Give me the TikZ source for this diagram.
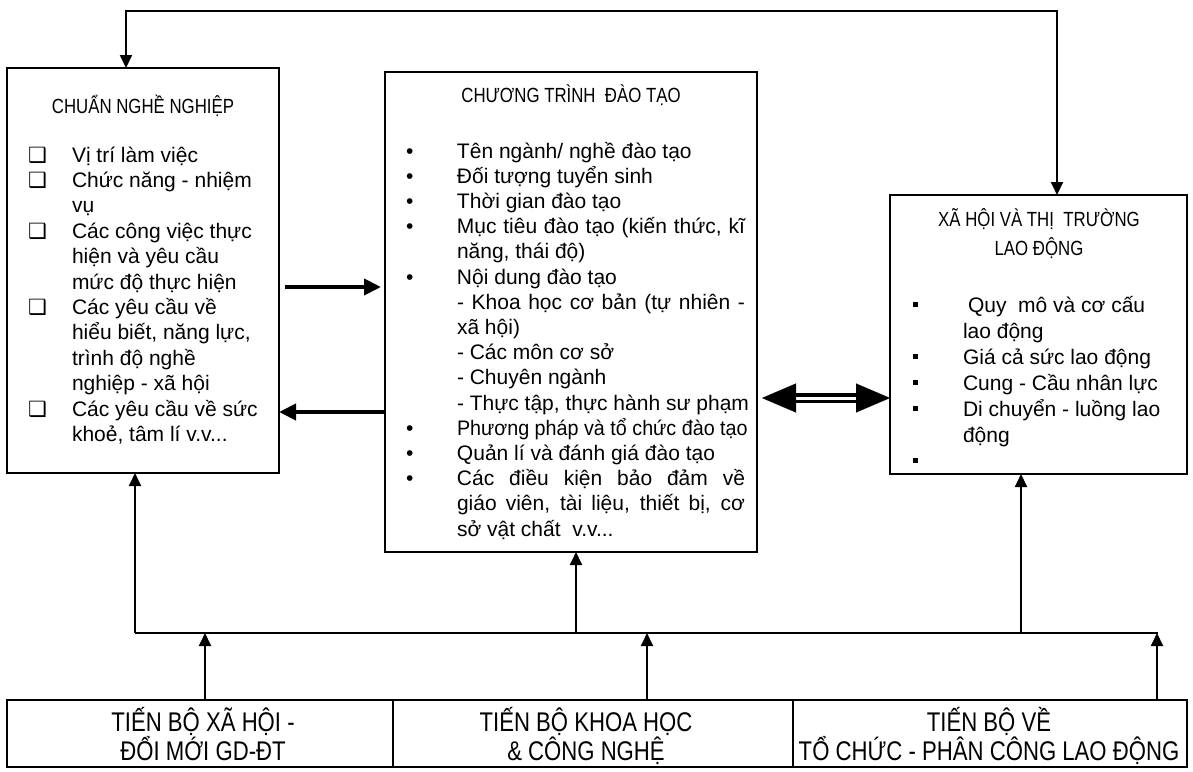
\documentclass[tikz,border=0pt]{standalone}
\usepackage{fontspec}
\usepackage{graphicx}
\setmainfont{Liberation Sans}
\newfontfamily\narrowfont[FakeStretch=0.82]{Liberation Sans}
\newfontfamily\symfont{DejaVu Sans}
\usetikzlibrary{arrows.meta,calc}

\newcommand{\bodyfnt}{\fontsize{21}{25.4}\selectfont}
\newcommand{\sqb}{\makebox[44pt][l]{\symfont\fontsize{21}{21}\selectfont ❑}}
\newcommand{\dotb}{\makebox[51pt][l]{•}}
\newcommand{\smb}{\makebox[50pt][l]{\raisebox{5pt}{\rule{4.5pt}{5pt}}}}
\newcommand{\jline}[1]{\makebox[288pt][s]{#1}}

\tikzset{
  box/.style={draw, line width=1.7pt, inner sep=0pt, outer sep=0pt, anchor=north west},
  txt/.style={anchor=base west, inner sep=0pt, outer sep=0pt},
  head/.style={anchor=base, inner sep=0pt, font=\narrowfont\fontsize{20.5}{24}\selectfont},
  bottxt/.style={anchor=base, inner sep=0pt, font=\narrowfont\fontsize{27}{29}\selectfont},
  ln/.style={line width=1.9pt},
  arr/.style={line width=1.9pt, -{Triangle[length=13pt,width=12pt]}},
  tarr/.style={line width=4pt, -{Triangle[length=17pt,width=16pt]}},
}

\begin{document}
\begin{tikzpicture}[x=1pt,y=-1pt]
\useasboundingbox[fill=white] (0,0) rectangle (1193,771);

% boxes
\node[box, minimum width=272pt, minimum height=405pt] (lf) at (7,68) {};
\node[box, minimum width=372pt, minimum height=480pt] (md) at (385,72) {};
\node[box, minimum width=297pt, minimum height=279pt] (rt) at (890,195) {};
\node[box, minimum width=386pt, minimum height=67pt] (b1) at (7,700) {};
\node[box, minimum width=400pt, minimum height=67pt] (b2) at (393,700) {};
\node[box, minimum width=394pt, minimum height=67pt] (b3) at (793,700) {};

% headers
\node[head] (lfh) at (143,113) {CHUẨN NGHỀ NGHIỆP};
\node[head] (mdh) at (571,102) {CHƯƠNG TRÌNH~ ĐÀO TẠO};
\node[head] (rth) at (1039,226) {\parbox[t]{280pt}{\centering\baselineskip=29pt XÃ HỘI VÀ THỊ~ TRƯỜNG\\LAO ĐỘNG}};

% left content
\node[txt] (lft) at (28,162) {\parbox[t]{260pt}{\bodyfnt\raggedright
\sqb Vị trí làm việc\\
\sqb Chức năng - nhiệm\\
\hspace*{44pt}vụ\\
\sqb Các công việc thực\\
\hspace*{44pt}hiện và yêu cầu\\
\hspace*{44pt}mức độ thực hiện\\
\sqb Các yêu cầu về\\
\hspace*{44pt}hiểu biết, năng lực,\\
\hspace*{44pt}trình độ nghề\\
\hspace*{44pt}nghiệp - xã hội\\
\sqb Các yêu cầu về sức\\
\hspace*{44pt}khoẻ, tâm lí v.v...}};

% middle content
\node[txt] (mdt) at (406,158) {\parbox[t]{420pt}{\fontsize{21}{25.2}\selectfont\raggedright
\dotb Tên ngành/ nghề đào tạo\\
\dotb Đối tượng tuyển sinh\\
\dotb Thời gian đào tạo\\
\dotb\jline{Mục tiêu đào tạo (kiến thức, kĩ}\\
\hspace*{51pt}năng, thái độ)\\
\dotb Nội dung đào tạo\\
\hspace*{51pt}\jline{- Khoa học cơ bản (tự nhiên -}\\
\hspace*{51pt}xã hội)\\
\hspace*{51pt}- Các môn cơ sở\\
\hspace*{51pt}- Chuyên ngành\\
\hspace*{51pt}- Thực tập, thực hành sư phạm\\
\dotb\scalebox{0.94}[1]{Phương pháp và tổ chức đào tạo}\\
\dotb Quản lí và đánh giá đào tạo\\
\dotb\jline{Các điều kiện bảo đảm về}\\
\hspace*{51pt}\jline{giáo viên, tài liệu, thiết bị, cơ}\\
\hspace*{51pt}sở vật chất~ v.v...}};

% right content
\node[txt] (rtt) at (913,312) {\parbox[t]{280pt}{\fontsize{21}{26}\selectfont\raggedright
\smb\hspace*{5pt}Quy~ mô và cơ cấu\\
\hspace*{50pt}lao động\\
\smb Giá cả sức lao động\\
\smb Cung - Cầu nhân lực\\
\smb Di chuyển - luồng lao\\
\hspace*{50pt}động\\
\smb}};

% bottom texts
\node[bottxt] (b1t) at (203,731) {\parbox[t]{380pt}{\centering\baselineskip=29pt TIẾN BỘ XÃ HỘI -\\ĐỔI MỚI GD-ĐT}};
\node[bottxt] (b2t) at (586,731) {\parbox[t]{390pt}{\centering\baselineskip=29pt TIẾN BỘ KHOA HỌC\\\& CÔNG NGHỆ}};
\node[bottxt] (b3t) at (989,731) {\parbox[t]{390pt}{\centering\baselineskip=29pt TIẾN BỘ VỀ\\TỔ CHỨC - PHÂN CÔNG LAO ĐỘNG}};

% top loop
\coordinate (tl) at (126,11);
\coordinate (tr) at (1057,11);
\draw[ln, {Triangle[length=13pt,width=12pt]}-{Triangle[length=13pt,width=12pt]}]
  (tr |- rt.north) -- (tr) -- (tl) -- (tl |- lf.north);

% thick arrows between left and middle
\coordinate (ya) at (0,287);
\coordinate (yb) at (0,412);
\draw[tarr] ($(lf.east |- ya)+(6,0)$) -- ($(md.west |- ya)+(-4,0)$);
\draw[tarr] (md.west |- yb) -- (lf.east |- yb);

% double arrow
\coordinate (yd) at (0,398);
\draw[double, line width=3.5pt, double distance=3pt] ($(md.east |- yd)+(38,0)$) -- ($(rt.west |- yd)+(-33,0)$);
\draw[white, line width=0.2pt, {Triangle[length=34pt,width=29pt,color=black]}-{Triangle[length=34pt,width=29pt,color=black]}]
  ($(md.east |- yd)+(5,0)$) -- (rt.west |- yd);

% bus
\coordinate (busL) at (135,633);
\coordinate (busR) at (1158,633);
\coordinate (bm) at (576,633);
\coordinate (br) at (1021,633);
\draw[ln] (busL) -- (busR);
\draw[arr] (busL) -- (busL |- lf.south);
\draw[arr] (bm) -- (bm |- md.south);
\draw[arr] (br) -- (br |- rt.south);

% bottom arrows
\coordinate (u1) at (205,700);
\coordinate (u2) at (647,700);
\coordinate (u3) at (1157,700);
\draw[arr] (u1) -- (u1 |- busL);
\draw[arr] (u2) -- (u2 |- busL);
\draw[arr] (u3) -- (u3 |- busL);
\end{tikzpicture}
\end{document}
